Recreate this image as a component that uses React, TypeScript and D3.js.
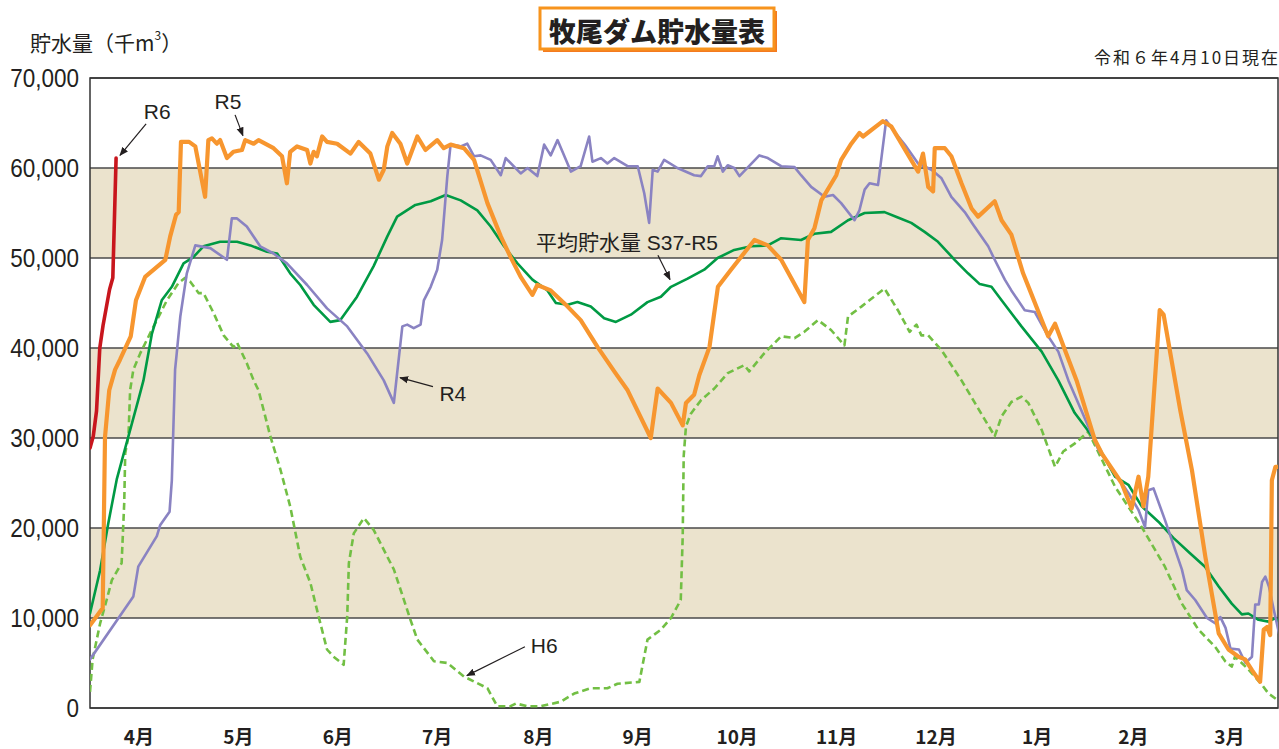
import React from "react";
import * as d3 from "d3";

// 日数(4/1 = 0) と 貯水量(千m3 / 1000)
const monthDays = [30, 31, 30, 31, 31, 30, 31, 30, 31, 31, 28, 31];
const monthLabels = ["4月", "5月", "6月", "7月", "8月", "9月", "10月", "11月", "12月", "1月", "2月", "3月"];
const yTicks = [0, 10, 20, 30, 40, 50, 60, 70];
const bands = [[10, 20], [30, 40], [50, 60]];

const r6 = [[0, 28.9], [1, 30.2], [2, 33], [3, 40], [4, 42.5], [5, 44.5], [6, 46.5], [7, 47.8], [8, 61.1]];

const r5 = [
  [0, 9.2], [3.9, 11.1], [4.6, 30.1], [5.9, 35.3], [7.7, 37.6], [9.2, 38.7], [12.5, 41.3], [14.1, 45.3],
  [16.9, 47.9], [23.1, 49.8], [24.6, 52.4], [26.4, 54.8], [27.2, 55.1], [27.9, 62.9], [30.4, 62.9], [32.3, 62.4],
  [35.3, 56.8], [36.3, 63.1], [37.4, 63.3], [38.9, 62.7], [39.9, 63.1], [42.0, 61.1], [44.0, 61.8], [46.6, 62.0],
  [47.6, 63.1], [50.2, 62.7], [51.7, 63.1], [56.3, 62.2], [58.9, 61.3], [60.4, 58.3], [61.4, 61.8], [63.5, 62.4],
  [66.6, 62.0], [67.6, 60.5], [68.6, 61.8], [69.6, 61.3], [71.2, 63.5], [72.7, 62.9], [75.8, 62.7], [79.9, 61.6],
  [82.4, 62.9], [86.0, 61.6], [88.6, 58.7], [90.1, 59.8], [91.2, 62.4], [92.7, 63.9], [95.2, 62.7], [97.3, 60.5],
  [100.4, 63.5], [102.9, 62.0], [106.5, 63.1], [108.5, 62.2], [110.6, 62.6], [114.7, 62.2], [117.8, 60.9],
  [121.9, 56.1], [126.0, 52.4], [129.0, 50.1], [132.1, 47.9], [135.7, 45.9], [137.2, 47.0], [141.3, 46.4],
  [146.5, 44.6], [150.5, 43.1], [155.7, 40.1], [160.8, 37.4], [164.9, 35.3], [172.0, 30.0], [174.1, 35.5],
  [178.2, 33.9], [181.8, 31.4], [182.8, 33.9], [185.3, 34.8], [186.9, 37.0], [190.0, 40.1], [192.6, 46.8],
  [196.6, 48.7], [203.8, 52.0], [207.9, 51.4], [212.0, 49.8], [219.1, 45.1], [220.2, 52.0], [222.2, 53.3],
  [224.3, 56.4], [228.9, 59.2], [230.4, 60.9], [233.5, 62.7], [236.0, 63.9], [237.1, 63.5], [243.2, 65.2],
  [245.8, 64.6], [254.0, 59.6], [255.5, 61.6], [257.1, 57.9], [258.6, 57.4], [259.1, 62.2], [262.2, 62.2],
  [264.2, 61.3], [267.3, 58.3], [270.4, 55.5], [272.4, 54.6], [277.5, 56.3], [279.6, 54.2], [282.6, 52.6],
  [286.2, 48.3], [288.3, 46.4], [291.9, 43.1], [293.9, 41.3], [296.0, 42.7], [299.0, 39.8], [302.6, 36.4],
  [308.2, 29.8], [310.3, 28.3], [316.4, 25.0], [319.5, 22.2], [321.6, 25.7], [323.1, 22.4], [324.6, 25.7],
  [328.1, 44.2], [329.3, 43.7], [334.4, 33.1], [338.0, 26.4], [342.1, 16.8], [346.2, 8.3], [349.2, 6.5],
  [352.3, 5.7], [354.3, 5.4], [356.4, 4.2], [358.9, 2.9], [360.0, 8.7], [361.0, 9.0], [362.0, 8.1],
  [362.5, 25.3], [363.6, 26.8], [365, 26.8],
];

const r4 = [
  [0, 5.4], [13.3, 12.4], [14.8, 15.7], [20.5, 19.1], [21.5, 20.3], [24.4, 21.8], [25.1, 25.3], [26.1, 37.6],
  [26.6, 39.4], [27.7, 43.5], [29.7, 48.3], [32.3, 51.4], [36.9, 51.1], [42.0, 49.8], [43.5, 54.4], [45.1, 54.4],
  [48.1, 53.5], [52.2, 51.3], [56.3, 50.5], [60.4, 49.4], [66.6, 47.0], [72.7, 44.4], [78.9, 42.4], [85.0, 39.4],
  [90.1, 36.4], [93.2, 33.9], [95.8, 42.4], [97.3, 42.6], [99.3, 42.2], [101.4, 42.6], [102.4, 45.3],
  [104.5, 46.8], [106.5, 48.7], [108.0, 52.0], [109.6, 59.1], [110.6, 62.6], [113.7, 62.4], [115.7, 62.7],
  [117.8, 61.3], [119.8, 61.4], [122.9, 60.9], [126.0, 59.2], [127.5, 61.1], [132.1, 59.4], [134.2, 60.0],
  [137.2, 59.1], [139.3, 62.6], [141.3, 61.4], [143.4, 63.1], [147.5, 59.6], [150.5, 60.2], [153.1, 63.5],
  [154.1, 60.7], [156.7, 61.1], [158.7, 60.5], [160.8, 61.1], [164.9, 60.2], [168.0, 60.2], [170.0, 57.2],
  [171.5, 53.9], [172.6, 59.8], [174.1, 59.6], [176.1, 60.9], [180.2, 60.0], [185.3, 59.2], [187.4, 59.1],
  [189.5, 60.2], [191.5, 60.2], [192.5, 61.3], [194.1, 59.6], [195.6, 60.3], [197.6, 60.0], [199.2, 59.1],
  [205.3, 61.4], [207.9, 61.1], [212.0, 60.2], [216.1, 60.1], [218.1, 59.2], [221.2, 57.9], [225.3, 56.8],
  [227.9, 57.0], [230.4, 56.1], [234.5, 54.2], [236.0, 55.3], [237.6, 57.6], [239.1, 58.3], [241.7, 58.1],
  [244.2, 65.3], [246.8, 64.0], [249.9, 62.6], [254.0, 60.5], [258.1, 59.8], [261.1, 58.9], [264.2, 56.8],
  [268.3, 55.1], [270.9, 53.7], [275.5, 51.3], [277.5, 49.8], [280.6, 47.6], [282.6, 46.4], [286.7, 44.2],
  [289.8, 44.0], [293.9, 41.3], [297.0, 39.6], [300.1, 36.4], [309.3, 28.7], [314.4, 26.1], [318.5, 23.9],
  [321.6, 22.0], [323.6, 20.1], [324.6, 24.2], [326.2, 24.4], [329.7, 20.9], [334.9, 15.4], [336.4, 13.1],
  [339.0, 12.0], [342.6, 10.0], [345.2, 9.4], [346.7, 10.1], [348.3, 8.9], [349.8, 6.6], [352.4, 6.5],
  [354.4, 5.0], [356.4, 5.7], [357.4, 11.5], [358.5, 11.5], [359.5, 14.0], [360.5, 14.6], [361.6, 13.5],
  [363.1, 10.9], [364.7, 8.3],
];

const avg = [
  [0, 10.5], [3.1, 15.3], [5.6, 20.5], [8.2, 25.4], [11.8, 30.2], [14.8, 34.2], [16.4, 36.4], [19.0, 41.6],
  [22.0, 45.3], [25.1, 46.8], [28.7, 49.4], [31.7, 50.1], [34.8, 51.3], [39.9, 51.8], [45.1, 51.8], [49.2, 51.4],
  [54.3, 50.7], [57.4, 50.5], [61.4, 48.3], [64.5, 47.0], [68.6, 44.8], [73.7, 42.9], [76.8, 43.1], [81.9, 45.7],
  [87.0, 49.1], [91.2, 52.4], [94.2, 54.6], [99.8, 55.9], [104.5, 56.3], [109.1, 57.0], [113.7, 56.4],
  [118.8, 55.3], [122.9, 53.5], [127.0, 51.3], [131.1, 49.4], [135.7, 47.6], [140.3, 46.4], [142.9, 45.0],
  [146.5, 44.8], [149.5, 45.1], [153.6, 44.6], [157.7, 43.3], [161.3, 42.9], [165.9, 43.7], [171.0, 45.1],
  [175.1, 45.7], [178.2, 46.8], [183.3, 47.7], [188.4, 48.7], [192.5, 50.0], [197.6, 50.9], [202.8, 51.3],
  [207.9, 51.4], [212.0, 52.2], [218.1, 52.0], [222.2, 52.7], [227.3, 52.9], [232.5, 54.2], [237.6, 55.0],
  [243.7, 55.1], [247.8, 54.5], [251.9, 53.9], [256.0, 52.9], [260.1, 51.8], [265.2, 49.8], [269.3, 48.3],
  [272.9, 47.1], [276.5, 46.8], [279.6, 45.3], [285.7, 42.4], [291.9, 39.6], [297.0, 36.4], [302.0, 32.8],
  [308.2, 29.8], [314.4, 25.7], [318.5, 24.8], [322.6, 22.4], [327.7, 20.7], [332.3, 18.9], [337.4, 17.2],
  [342.0, 15.7], [346.2, 13.5], [350.2, 11.6], [353.3, 10.4], [355.3, 10.5], [358.4, 9.8], [361.5, 9.6],
  [363.6, 10.0], [365, 9.4],
];

const h6 = [
  [0, 1.8], [0.8, 5.4], [3.1, 9.4], [5.1, 12.0], [6.7, 14.2], [9.7, 16.1], [10.5, 22.8], [10.8, 28.3],
  [11.8, 30.2], [12.3, 35.3], [13.3, 37.6], [15.4, 39.4], [18.4, 41.6], [23.6, 45.3], [27.1, 47.2], [29.2, 47.8],
  [30.7, 47.4], [33.3, 46.1], [34.8, 46.1], [37.9, 43.9], [41.0, 41.4], [44.0, 40.1], [45.1, 40.6], [48.1, 38.3],
  [50.2, 36.4], [51.7, 35.3], [55.3, 30.2], [58.4, 26.5], [61.4, 22.4], [64.5, 16.8], [67.6, 13.9], [70.1, 10.2],
  [72.7, 6.5], [74.7, 5.7], [77.8, 4.8], [78.9, 10.2], [79.4, 16.1], [80.9, 19.4], [84.0, 21.1], [87.0, 19.8],
  [91.2, 16.8], [93.2, 15.4], [98.3, 9.8], [100.4, 7.6], [105.5, 5.2], [109.6, 5.0], [114.7, 3.5], [121.9, 2.2],
  [124.9, 0.2], [129.0, 0.2], [130.6, 0.5], [134.2, 0.2], [138.3, 0.2], [144.4, 0.7], [148.5, 1.6], [153.6, 2.2],
  [158.7, 2.2], [161.8, 2.7], [168.5, 2.9], [171.0, 7.6], [175.1, 8.7], [178.2, 10.0], [181.2, 12.0],
  [181.8, 19.1], [182.1, 28.0], [182.8, 31.3], [184.3, 32.7], [187.4, 34.2], [191.5, 35.5], [195.6, 37.2],
  [200.7, 38.1], [202.2, 37.4], [206.8, 39.4], [212.0, 41.3], [216.1, 41.1], [219.1, 41.8], [223.3, 43.1],
  [227.3, 42.0], [231.4, 40.3], [232.5, 43.5], [236.6, 44.6], [243.7, 46.6], [247.8, 44.2], [251.4, 41.8],
  [253.5, 42.6], [255.0, 41.4], [257.1, 41.4], [261.1, 39.8], [267.3, 36.4], [277.5, 30.2], [279.6, 32.4],
  [282.6, 34.0], [285.7, 34.6], [287.8, 33.9], [291.9, 30.9], [296.0, 26.8], [298.5, 28.5], [302.1, 29.4],
  [306.2, 30.7], [314.4, 24.6], [322.6, 20.1], [329.7, 15.7], [334.9, 11.6], [340.0, 8.7], [345.1, 6.8],
  [348.2, 5.2], [350.2, 4.6], [351.2, 5.7], [355.3, 4.3], [359.4, 2.6], [361.5, 1.6], [365, 0.7],
];

// 注記: 文字位置と矢印(始点→終点) [日, 千m3/1000]
const notes = [
  { text: "R6", at: [20.6, 66.3], from: [17.2, 64.9], to: [9.2, 61.4] },
  { text: "R5", at: [42.3, 67.4], from: [44.5, 65.9], to: [46.9, 63.6] },
  { text: "R4", at: [111.3, 35.0], from: [105.2, 35.7], to: [95.1, 36.7] },
  { text: "H6", at: [139.3, 7.0], from: [133.4, 6.8], to: [115.6, 3.6] },
  { text: "平均貯水量 S37-R5", at: [164.7, 51.7], from: [174.2, 50.3], to: [177.9, 47.6] },
];

const INK = "#231f20";
const LATIN = "'Liberation Sans', Arial, 'Noto Sans CJK JP', sans-serif";
const CJK = "'Noto Sans CJK JP', 'Noto Sans', sans-serif";

export default function App() {
  const W = 1279, H = 749;
  const left = 90, right = 1278, top = 78, bottom = 708;

  const x = d3.scaleLinear().domain([0, 365]).range([left, 1280]);
  const y = d3.scaleLinear().domain([0, 70]).range([bottom, top]);

  const ends = d3.cumsum(monthDays);
  const starts = [0, ...Array.from(ends).slice(0, -1)];

  const line = d3.line<number[]>().x(d => x(d[0])).y(d => y(d[1]));
  const fmt = d3.format(",");

  return (
    <svg width={W} height={H} style={{ position: "absolute", left: 0, top: 0, background: "#fff" }}>
      <defs>
        <clipPath id="plot">
          <rect x={left} y={top - 10} width={right - left} height={bottom - top + 10} />
        </clipPath>
        <marker id="arrow" viewBox="0 0 10 10" refX="9" refY="5" markerWidth="9" markerHeight="9"
          markerUnits="userSpaceOnUse" orient="auto">
          <path d="M0,1 L10,5 L0,9 Z" fill={INK} />
        </marker>
      </defs>

      {/* タイトル */}
      <rect x={543} y={11} width={234} height={41} fill="#f47b20" />
      <rect x={540} y={8} width={234} height={41} fill="#fff" stroke="#f7941d" strokeWidth={3} />
      <text x={657} y={30} textAnchor="middle" dominantBaseline="central" fontFamily={CJK}
        fontWeight={900} fontSize={27} fill={INK}>牧尾ダム貯水量表</text>

      <text x={30} y={42} dominantBaseline="central" fontFamily={CJK} fontSize={21} fill={INK}>
        貯水量（千m<tspan dy={-8} fontSize={12}>3</tspan><tspan dy={8}>）</tspan>
      </text>
      <text x={1278} y={56} textAnchor="end" dominantBaseline="central" fontFamily={CJK} fontSize={17}
        textLength={184} lengthAdjust="spacing" fill={INK}>
        令和６年4月10日現在
      </text>

      {/* 背景帯 */}
      {bands.map(([a, b]) => (
        <rect key={a} x={left} y={y(b)} width={right - left} height={y(a) - y(b)} fill="#ebe3cd" />
      ))}

      {/* グリッド */}
      {yTicks.map(t => (
        <line key={t} x1={left} x2={right} y1={y(t)} y2={y(t)} stroke="#4a4a4a" strokeWidth={1.3} />
      ))}
      {ends.slice(0, -1).map((d, i) => (
        <line key={i} x1={x(d)} x2={x(d)} y1={top} y2={bottom} stroke={i % 2 ? "#333" : "#666"} strokeWidth={1.3} />
      ))}
      <rect x={left} y={top} width={right - left} height={bottom - top} fill="none" stroke="#333" strokeWidth={1.5} />

      {/* 目盛 */}
      {yTicks.map(t => (
        <text key={t} transform={`translate(79,${y(t)}) scale(0.9,1)`} textAnchor="end" dominantBaseline="central"
          fontFamily={LATIN} fontSize={25} fill={INK}>{fmt(t * 1000)}</text>
      ))}
      {monthLabels.map((m, i) => (
        <text key={m} x={x((starts[i] + ends[i]) / 2)} y={735} textAnchor="middle" dominantBaseline="central"
          fontFamily={CJK} fontWeight={700} fontSize={19} fill={INK}>{m}</text>
      ))}

      {/* 系列 */}
      <g clipPath="url(#plot)" fill="none" strokeLinejoin="round" strokeLinecap="round">
        <path d={line(h6) || ""} stroke="#72bf44" strokeWidth={2.6} strokeDasharray="7 4" strokeLinecap="butt" />
        <path d={line(avg) || ""} stroke="#009a44" strokeWidth={2.6} />
        <path d={line(r4) || ""} stroke="#8a83c2" strokeWidth={2.6} />
        <path d={line(r5) || ""} stroke="#f7962f" strokeWidth={4.2} />
        <path d={line(r6) || ""} stroke="#c8161d" strokeWidth={3.6} />
      </g>

      {/* 注記 */}
      {notes.map(n => (
        <g key={n.text}>
          <line x1={x(n.from[0])} y1={y(n.from[1])} x2={x(n.to[0])} y2={y(n.to[1])} stroke={INK}
            strokeWidth={1.2} markerEnd="url(#arrow)" />
          <text x={x(n.at[0])} y={y(n.at[1])} textAnchor="middle" dominantBaseline="central"
            fontFamily={LATIN} fontSize={21} fill={INK}>{n.text}</text>
        </g>
      ))}
    </svg>
  );
}
